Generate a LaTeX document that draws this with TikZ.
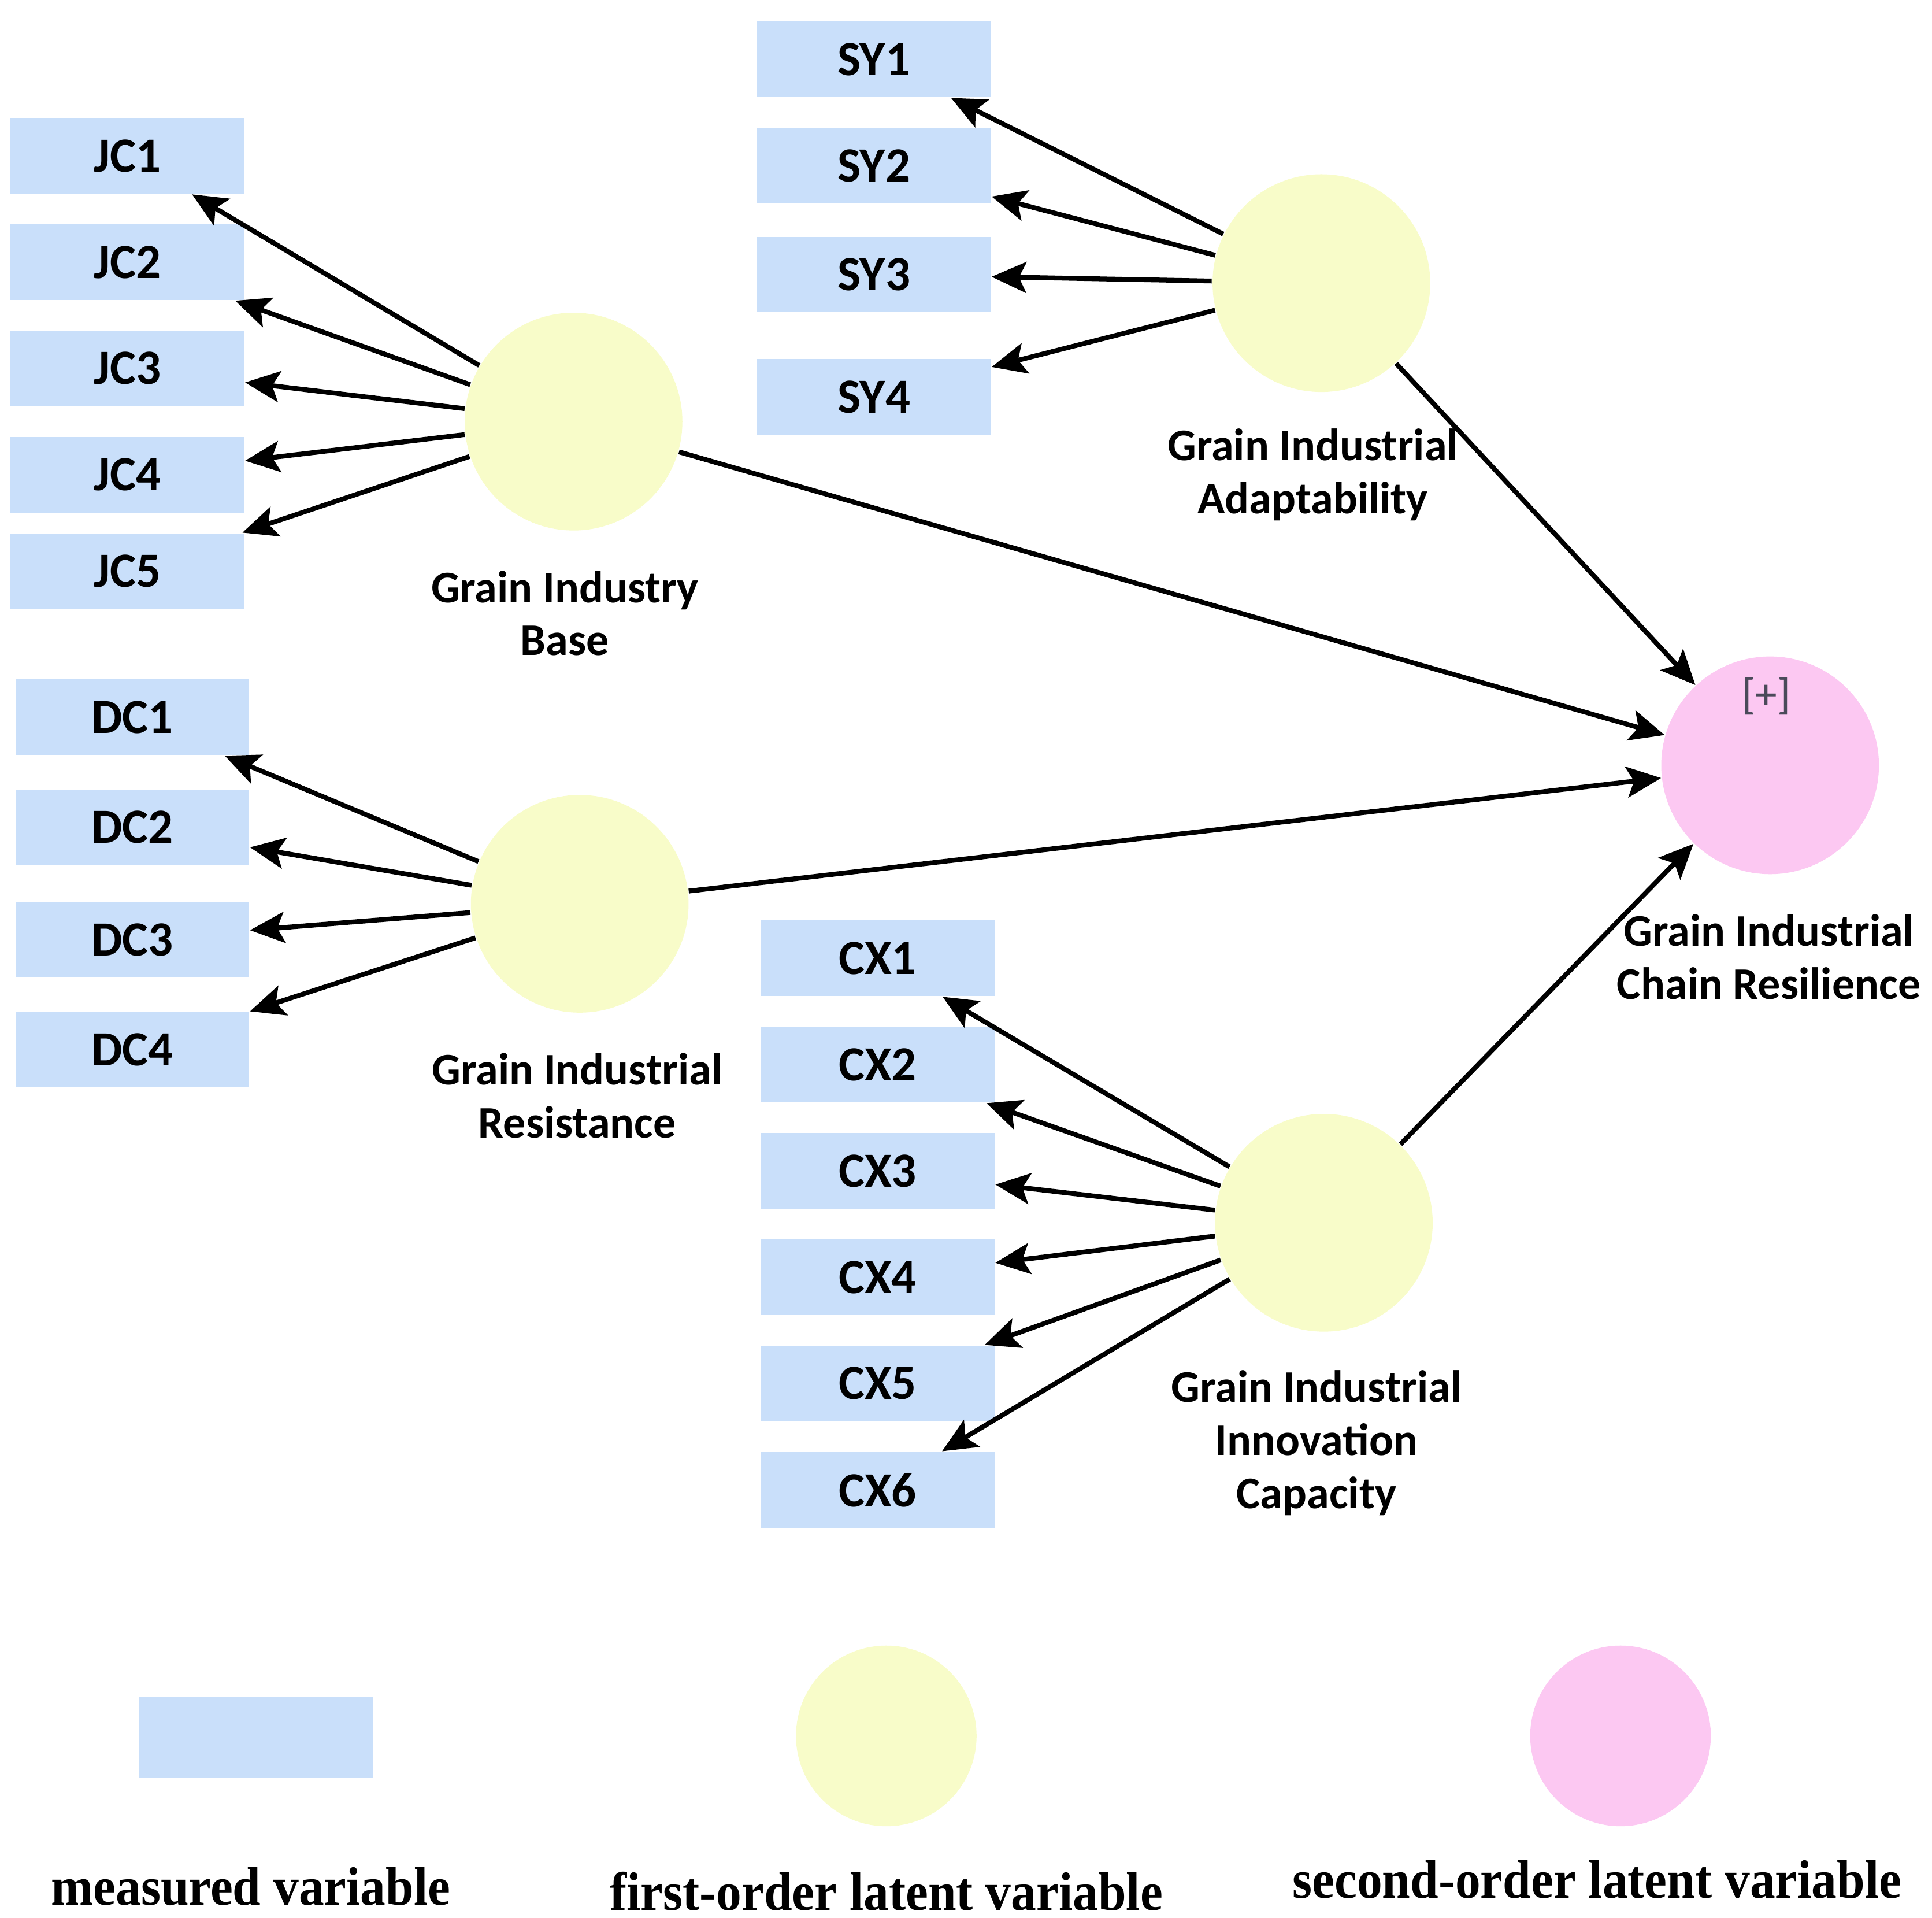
\documentclass[tikz,border=0pt]{standalone}
\usepackage{fontspec}
\setmainfont{Carlito}
\newfontfamily\legendfont{Liberation Serif}
\usetikzlibrary{arrows.meta}
\definecolor{mvblue}{HTML}{C9DFFA}
\definecolor{lvyellow}{HTML}{F8FCC9}
\definecolor{lvpink}{HTML}{FCC8F2}
\definecolor{signgray}{HTML}{4A4A5A}
\tikzset{
  measured/.style={fill=mvblue, minimum width=1.89cm, minimum height=0.61cm, inner sep=0pt, font=\fontsize{11.3}{13}\selectfont\bfseries},
  firstorder/.style={circle, fill=lvyellow, minimum size=1.76cm, inner sep=0pt},
  secondorder/.style={circle, fill=lvpink, minimum size=1.76cm, inner sep=0pt},
  latentname/.style={align=center, inner sep=0pt, font=\fontsize{10.4}{12.2}\selectfont\bfseries},
  loading/.style={-{Stealth[length=0.28cm, width=0.25cm, inset=0.06cm]}, line width=1.1pt},
  legendtext/.style={anchor=base, inner sep=0pt, xscale=0.93, font=\legendfont\fontsize{12.5}{14}\selectfont\bfseries}
}
\begin{document}
\begin{tikzpicture}[x=0.01cm, y=-0.01cm]
\path [use as bounding box] (0,0) rectangle (1563,1551);
% measured variables
\foreach \i/\y in {1/126,2/212,3/298,4/384,5/462} {
  \node [measured] (jc\i) at (103,\y) {JC\i};
}
\foreach \i/\y in {1/48,2/134,3/222,4/321} {
  \node [measured] (sy\i) at (707,\y) {SY\i};
}
\foreach \i/\y in {1/580,2/669,3/760,4/849} {
  \node [measured] (dc\i) at (107,\y) {DC\i};
}
\foreach \i/\y in {1/775,2/861,3/947,4/1033,5/1119,6/1205} {
  \node [measured] (cx\i) at (710,\y) {CX\i};
}
% latent variables
\node [firstorder] (gib) at (464,341) {};
\node [firstorder] (gia) at (1069,229) {};
\node [firstorder] (gir) at (469,731) {};
\node [firstorder] (giic) at (1071,989) {};
\node [secondorder] (gicr) at (1432,619) {};
\node [font=\fontsize{10}{12}\selectfont, text=signgray, inner sep=0pt] (gicrsign) at (1429,563) {[+]};
\node [latentname] (gibname) at (457,496) {Grain Industry\\Base};
\node [latentname] (gianame) at (1062,384) {Grain Industrial\\Adaptability};
\node [latentname] (girname) at (467,886) {Grain Industrial\\Resistance};
\node [latentname] (giicname) at (1065,1167) {Grain Industrial\\Innovation\\Capacity};
\node [latentname] (gicrname) at (1431,774) {Grain Industrial\\Chain Resilience};
% loadings
\foreach \i in {1,...,5} \draw [loading] (gib) -- (jc\i);
\foreach \i in {1,...,4} \draw [loading] (gia) -- (sy\i);
\foreach \i in {1,...,4} \draw [loading] (gir) -- (dc\i);
\foreach \i in {1,...,6} \draw [loading] (giic) -- (cx\i);
\foreach \f in {gib,gia,gir,giic} \draw [loading] (\f) -- (gicr);
% legend
\node [measured, minimum height=0.65cm] (legbox) at (207,1405) {};
\node [firstorder, minimum size=1.46cm] (legfirst) at (717,1404) {};
\node [secondorder, minimum size=1.46cm] (legsecond) at (1311,1404) {};
\node [legendtext] (legboxtext) at (203,1541) {measured variable};
\node [legendtext] (legfirsttext) at (717,1545) {first-order latent variable};
\node [legendtext] (legsecondtext) at (1292,1535) {second-order latent variable};
\end{tikzpicture}
\end{document}
